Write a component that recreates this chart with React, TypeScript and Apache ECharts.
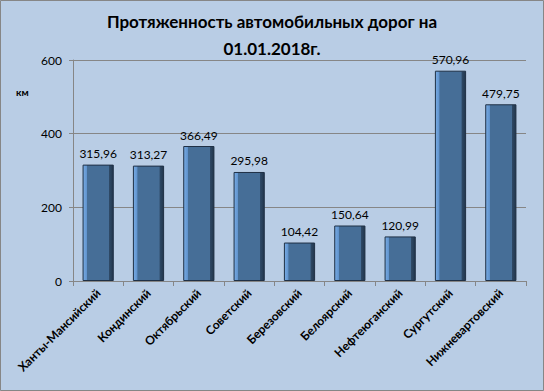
import React, { useEffect, useRef } from "react";
import * as echarts from "echarts";

const categories = ["Ханты-Мансийский", "Кондинский", "Октябрьский", "Советский", "Березовский", "Белоярский", "Нефтеюганский", "Сургутский", "Нижневартовский"];
const values = [315.96, 313.27, 366.49, 295.98, 104.42, 150.64, 120.99, 570.96, 479.75];
const yTicks = [0, 200, 400, 600];

const fmt = (v: number) => v.toFixed(2).replace(".", ",");

export default function App() {
  const ref = useRef<HTMLDivElement>(null);
  useEffect(() => {
    const chart = echarts.init(ref.current!, null, { renderer: "svg" });
    const font = "Lato, 'Open Sans', sans-serif";
    chart.setOption({
      animation: false,
      backgroundColor: "#B9CDE5",
      textStyle: { fontFamily: font },
      title: {
        text: "Протяженность автомобильных дорог на\n01.01.2018г.",
        left: "center",
        top: 3,
        textStyle: { fontSize: 17, fontWeight: "bold", color: "#000", lineHeight: 27, fontFamily: font },
      },
      graphic: [
        { type: "text", left: 16, top: 87, style: { text: "км", font: "bold 10px Lato, sans-serif", fill: "#000" } },
        { type: "rect", shape: { x: 0.5, y: 0.5, width: 543, height: 390 }, style: { fill: "none", stroke: "#868686", lineWidth: 1 } },
      ],
      grid: { left: 73, right: 18, top: 60, bottom: 110 },
      xAxis: {
        type: "category",
        data: categories,
        axisLine: { lineStyle: { color: "#868686" } },
        axisTick: { show: true, alignWithLabel: false, lineStyle: { color: "#868686" }, length: 5 },
        axisLabel: { rotate: 45, interval: 0, fontSize: 12, fontWeight: "bold", color: "#000", margin: 10, fontFamily: font },
      },
      yAxis: {
        type: "value",
        min: yTicks[0],
        max: yTicks[yTicks.length - 1],
        interval: 200,
        axisLine: { show: true, lineStyle: { color: "#868686" } },
        axisTick: { show: true, length: 4, lineStyle: { color: "#868686" } },
        axisLabel: { fontSize: 12, color: "#000", margin: 11, fontFamily: font },
        splitLine: { lineStyle: { color: "#868686" } },
      },
      series: [
        {
          type: "bar",
          data: values,
          barWidth: "62%",
          itemStyle: {
            color: new echarts.graphic.LinearGradient(0, 0, 1, 0, [
              { offset: 0, color: "#79ACE4" },
              { offset: 0.13, color: "#5F92CC" },
              { offset: 0.14, color: "#466E97" },
              { offset: 0.86, color: "#466E97" },
              { offset: 0.87, color: "#2E4966" },
              { offset: 1, color: "#22364C" },
            ]),
            borderColor: "#1F3045",
            borderWidth: 1,
          },
          label: {
            show: true,
            position: "top",
            distance: 5,
            fontSize: 12,
            color: "#000",
            fontFamily: font,
            formatter: (p: any) => fmt(p.value),
          },
        },
      ],
    });
    return () => chart.dispose();
  }, []);
  return <div ref={ref} style={{ position: "fixed", left: 0, top: 0, width: 544, height: 391 }} />;
}
